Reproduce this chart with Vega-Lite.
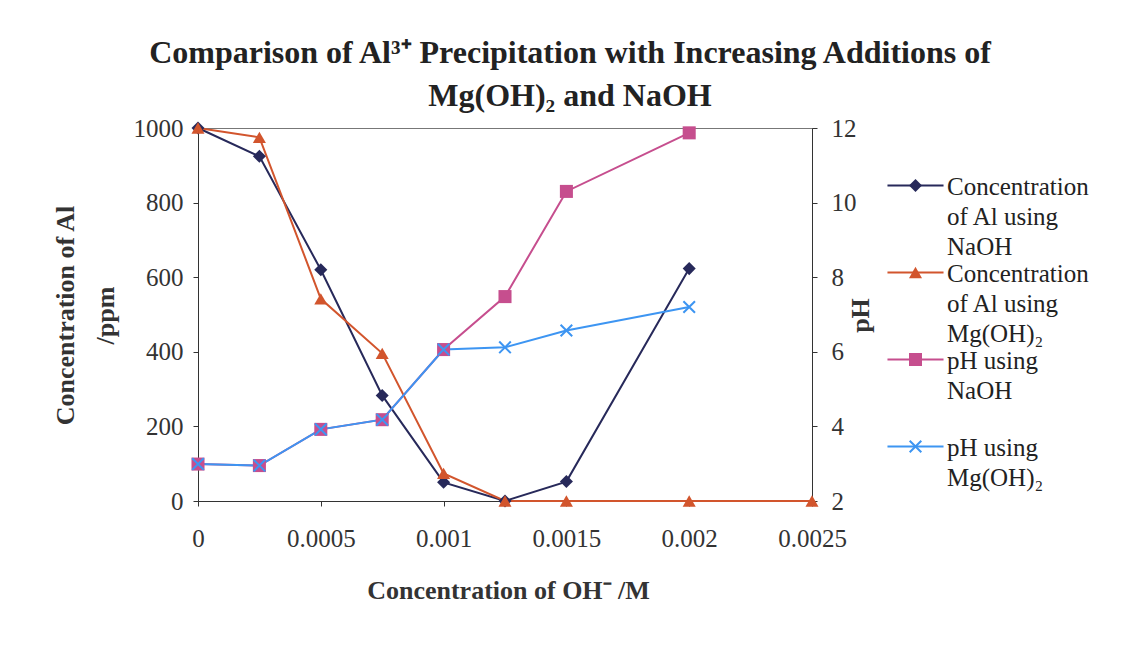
{
  "$schema": "https://vega.github.io/schema/vega-lite/v6.json",
  "width": 614,
  "height": 373,
  "autosize": "none",
  "padding": {"left": 198, "top": 128, "right": 314, "bottom": 145},
  "background": "white",
  "config": {
    "view": {"stroke": "#777777", "strokeWidth": 1},
    "font": "Liberation Serif",
    "style": {"guide-label": {"lineHeight": 30, "dy": -11}}
  },
  "title": {
    "text": ["Comparison of Al³⁺ Precipitation with Increasing Additions of", "Mg(OH)₂ and NaOH"],
    "font": "Liberation Serif",
    "fontSize": 32,
    "fontWeight": "bold",
    "color": "#222222",
    "lineHeight": 43,
    "anchor": "middle",
    "frame": "group",
    "dx": 65,
    "offset": 3
  },
  "datasets": {
    "al": [
      {"x": 0, "series": "Concentration of Al using NaOH", "v": 1000},
      {"x": 0.00025, "series": "Concentration of Al using NaOH", "v": 924},
      {"x": 0.0005, "series": "Concentration of Al using NaOH", "v": 620},
      {"x": 0.00075, "series": "Concentration of Al using NaOH", "v": 283},
      {"x": 0.001, "series": "Concentration of Al using NaOH", "v": 50},
      {"x": 0.00125, "series": "Concentration of Al using NaOH", "v": 0},
      {"x": 0.0015, "series": "Concentration of Al using NaOH", "v": 52},
      {"x": 0.002, "series": "Concentration of Al using NaOH", "v": 623},
      {"x": 0, "series": "Concentration of Al using Mg(OH)₂", "v": 1000},
      {"x": 0.00025, "series": "Concentration of Al using Mg(OH)₂", "v": 975},
      {"x": 0.0005, "series": "Concentration of Al using Mg(OH)₂", "v": 542},
      {"x": 0.00075, "series": "Concentration of Al using Mg(OH)₂", "v": 396},
      {"x": 0.001, "series": "Concentration of Al using Mg(OH)₂", "v": 74},
      {"x": 0.00125, "series": "Concentration of Al using Mg(OH)₂", "v": 0},
      {"x": 0.0015, "series": "Concentration of Al using Mg(OH)₂", "v": 0},
      {"x": 0.002, "series": "Concentration of Al using Mg(OH)₂", "v": 0},
      {"x": 0.0025, "series": "Concentration of Al using Mg(OH)₂", "v": 0}
    ],
    "ph": [
      {"x": 0, "series": "pH using NaOH", "v": 2.99},
      {"x": 0.00025, "series": "pH using NaOH", "v": 2.95},
      {"x": 0.0005, "series": "pH using NaOH", "v": 3.92},
      {"x": 0.00075, "series": "pH using NaOH", "v": 4.18},
      {"x": 0.001, "series": "pH using NaOH", "v": 6.06},
      {"x": 0.00125, "series": "pH using NaOH", "v": 7.48},
      {"x": 0.0015, "series": "pH using NaOH", "v": 10.3},
      {"x": 0.002, "series": "pH using NaOH", "v": 11.87},
      {"x": 0, "series": "pH using Mg(OH)₂", "v": 2.99},
      {"x": 0.00025, "series": "pH using Mg(OH)₂", "v": 2.95},
      {"x": 0.0005, "series": "pH using Mg(OH)₂", "v": 3.92},
      {"x": 0.00075, "series": "pH using Mg(OH)₂", "v": 4.18},
      {"x": 0.001, "series": "pH using Mg(OH)₂", "v": 6.06},
      {"x": 0.00125, "series": "pH using Mg(OH)₂", "v": 6.12},
      {"x": 0.0015, "series": "pH using Mg(OH)₂", "v": 6.57},
      {"x": 0.002, "series": "pH using Mg(OH)₂", "v": 7.2}
    ]
  },
  "encoding": {
    "x": {
      "field": "x",
      "type": "quantitative",
      "scale": {"domain": [0, 0.0025], "nice": false, "zero": false},
      "axis": {
        "values": [0, 0.0005, 0.001, 0.0015, 0.002, 0.0025],
        "format": "~g",
        "grid": false,
        "labelFlush": false,
        "domainColor": "#333333",
        "tickColor": "#333333",
        "tickSize": 5,
        "labelFont": "Liberation Serif",
        "labelFontSize": 25,
        "labelColor": "#333333",
        "labelPadding": 31,
        "title": "Concentration of OH⁻ /M",
        "titleFont": "Liberation Serif",
        "titleFontSize": 26,
        "titleFontWeight": "bold",
        "titleColor": "#333333",
        "titleBaseline": "middle",
        "titleY": 89,
        "titleX": 310
      }
    }
  },
  "layer": [
    {
      "data": {"name": "al"},
      "encoding": {
        "y": {
          "field": "v",
          "type": "quantitative",
          "scale": {"domain": [0, 1000], "nice": false},
          "axis": {
            "orient": "left",
            "values": [0, 200, 400, 600, 800, 1000],
            "format": "d",
            "grid": false,
            "labelFlush": false,
            "domainColor": "#333333",
            "tickColor": "#333333",
            "tickSize": 5,
            "labelFont": "Liberation Serif",
            "labelFontSize": 25,
            "labelColor": "#333333",
            "labelPadding": 10,
            "labelOffset": 11,
            "title": ["Concentration of Al", "/ppm"],
            "titleFont": "Liberation Serif",
            "titleFontSize": 26,
            "titleFontWeight": "bold",
            "titleColor": "#333333",
            "titleLineHeight": 40,
            "titleAngle": -90,
            "titleAlign": "center",
            "titleBaseline": "bottom",
            "titleX": -120,
            "titleY": 187
          }
        }
      },
      "layer": [
        {
          "mark": {"type": "line", "strokeWidth": 2},
          "encoding": {
            "stroke": {
              "field": "series",
              "type": "nominal",
              "scale": {
                "domain": ["pH using Mg(OH)₂", "pH using NaOH", "Concentration of Al using Mg(OH)₂", "Concentration of Al using NaOH"],
                "range": ["#3D95F2", "#C64E8E", "#D2552D", "#27295A"]
              },
              "legend": {
                "values": ["Concentration of Al using NaOH", "Concentration of Al using Mg(OH)₂", "pH using NaOH", "pH using Mg(OH)₂"],
                "orient": "none",
                "legendX": 705,
                "legendY": 45,
                "title": null,
                "padding": 0,
                "symbolType": "M-4.3,0L4.3,0",
                "symbolSize": 170,
                "symbolStrokeWidth": 2,
                "labelFont": "Liberation Serif",
                "labelFontSize": 25,
                "labelOpacity": 0,
                "labelOffset": 19,
                "labelBaseline": "top",
                "labelLimit": 400,
                "gridAlign": "all",
                "rowPadding": 0,
                "labelExpr": "datum.label == 'Concentration of Al using NaOH' ? ['Concentration', 'of Al using', 'NaOH'] : datum.label == 'Concentration of Al using Mg(OH)₂' ? ['Concentration', 'of Al using', 'Mg(OH)₂'] : datum.label == 'pH using NaOH' ? ['pH using', 'NaOH'] : ['pH using', 'Mg(OH)₂']"
              }
            }
          }
        },
        {
          "mark": {"type": "point", "filled": true, "size": 170, "opacity": 1},
          "encoding": {
            "color": {
              "field": "series",
              "type": "nominal",
              "scale": {
                "domain": ["Concentration of Al using NaOH", "Concentration of Al using Mg(OH)₂", "pH using NaOH", "pH using Mg(OH)₂"],
                "range": ["#27295A", "#D2552D", "#C64E8E", "#3D95F2"]
              },
              "legend": {
                "orient": "none",
                "legendX": 705,
                "legendY": 45,
                "title": null,
                "padding": 0,
                "symbolSize": 170,
                "symbolStrokeWidth": 0,
                "labelFont": "Liberation Serif",
                "labelFontSize": 25,
                "labelColor": "#222222",
                "labelOffset": 19,
                "labelBaseline": "top",
                "labelLimit": 400,
                "gridAlign": "all",
                "rowPadding": 0,
                "labelExpr": "datum.label == 'Concentration of Al using NaOH' ? ['Concentration', 'of Al using', 'NaOH'] : datum.label == 'Concentration of Al using Mg(OH)₂' ? ['Concentration', 'of Al using', 'Mg(OH)₂'] : datum.label == 'pH using NaOH' ? ['pH using', 'NaOH'] : ['pH using', 'Mg(OH)₂']"
              }
            },
            "shape": {
              "field": "series",
              "type": "nominal",
              "scale": {
                "domain": ["Concentration of Al using NaOH", "Concentration of Al using Mg(OH)₂", "pH using NaOH", "pH using Mg(OH)₂"],
                "range": ["diamond", "triangle-up", "square", "M-1,-0.78L-0.78,-1L1,0.78L0.78,1Z M-1,0.78L0.78,-1L1,-0.78L-0.78,1Z"]
              },
              "legend": null
            }
          }
        }
      ]
    },
    {
      "data": {"name": "ph"},
      "encoding": {
        "y": {
          "field": "v",
          "type": "quantitative",
          "scale": {"domain": [2, 12], "nice": false, "zero": false},
          "axis": {
            "orient": "right",
            "values": [2, 4, 6, 8, 10, 12],
            "grid": false,
            "labelFlush": false,
            "domainColor": "#333333",
            "tickColor": "#333333",
            "tickSize": 5,
            "labelFont": "Liberation Serif",
            "labelFontSize": 25,
            "labelColor": "#333333",
            "labelPadding": 14,
            "labelOffset": 11,
            "title": "pH",
            "titleFont": "Liberation Serif",
            "titleFontSize": 26,
            "titleFontWeight": "bold",
            "titleColor": "#333333",
            "titleAngle": -90,
            "titleAlign": "center",
            "titleBaseline": "middle",
            "titleX": 48,
            "titleY": 187
          }
        }
      },
      "layer": [
        {
          "mark": {"type": "line", "strokeWidth": 2},
          "encoding": {
            "stroke": {"field": "series", "type": "nominal"}
          }
        },
        {
          "mark": {"type": "point", "filled": true, "size": 170, "opacity": 1},
          "encoding": {
            "color": {"field": "series", "type": "nominal"},
            "shape": {"field": "series", "type": "nominal", "legend": null}
          }
        }
      ]
    }
  ],
  "resolve": {"scale": {"y": "independent"}}
}
